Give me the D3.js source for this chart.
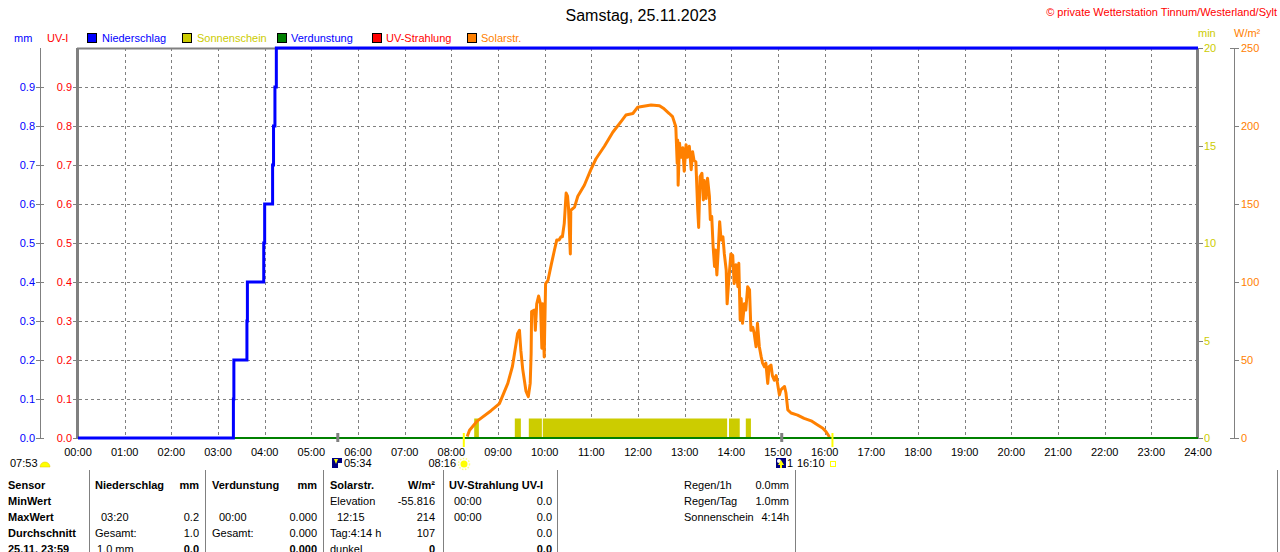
<!DOCTYPE html>
<html><head><meta charset="utf-8">
<script src="https://cdn.jsdelivr.net/npm/d3@7"></script>
<style>
html,body{margin:0;padding:0;background:#fff;}
svg{display:block;font-family:"Liberation Sans",Arial,sans-serif;}
</style></head>
<body><svg id="c" width="1280" height="552"></svg>
<script>
// ---------- data ----------
const hourLabels = ["00:00","01:00","02:00","03:00","04:00","05:00","06:00","07:00","08:00","09:00","10:00","11:00","12:00","13:00","14:00","15:00","16:00","17:00","18:00","19:00","20:00","21:00","22:00","23:00","24:00"];
const leftTicks = [0,0.1,0.2,0.3,0.4,0.5,0.6,0.7,0.8,0.9];
const minTicks = [0,5,10,15,20];
const solarTicks = [0,50,100,150,200,250];

// Niederschlag (cumulative mm), time in hours
const precipTimes  = [0, 3.33, 3.34, 3.62, 3.63, 3.98, 4.00, 4.17, 4.19, 4.22, 4.25, 24];
const precipValues = [0, 0.1, 0.2, 0.3, 0.4, 0.5, 0.6, 0.7, 0.8, 0.9, 1.0, 1.0];

// Verdunstung (mm)
const evapTimes = [0, 24];
const evapValues = [0, 0];

// Sonnenschein (min per interval)
const sunStart = [8.49, 9.36, 9.66, 9.96, 13.95, 14.31];
const sunEnd   = [8.59, 9.49, 9.94, 13.91, 14.18, 14.42];
const sunValue = [1, 1, 1, 1, 1, 1];

// Solarstrahlung (W/m²)
const solarTimes = [8.34,8.39,8.56,8.85,9.03,9.21,9.31,9.39,9.42,9.46,9.49,9.53,9.60,9.65,9.69,9.71,9.72,9.78,9.80,9.83,9.87,9.91,9.94,9.96,9.99,10.02,10.07,10.14,10.21,10.26,10.31,10.35,10.38,10.42,10.46,10.49,10.51,10.55,10.56,10.64,10.71,10.85,10.99,11.10,11.28,11.46,11.64,11.74,11.89,11.99,12.28,12.46,12.56,12.67,12.74,12.81,12.84,12.85,12.86,12.89,12.92,12.96,12.99,13.03,13.06,13.10,13.14,13.17,13.20,13.24,13.28,13.30,13.33,13.37,13.40,13.42,13.46,13.49,13.53,13.55,13.58,13.61,13.64,13.66,13.69,13.72,13.75,13.78,13.82,13.85,13.89,13.91,13.94,13.96,13.99,14.03,14.06,14.10,14.14,14.16,14.19,14.21,14.24,14.28,14.31,14.35,14.39,14.42,14.46,14.49,14.53,14.56,14.60,14.64,14.67,14.71,14.74,14.78,14.81,14.85,14.88,14.92,14.96,14.99,15.03,15.06,15.10,15.14,15.17,15.21,15.28,15.42,15.56,15.71,15.85,15.96,16.03,16.09,16.10];
const solarValues = [1,5,11,17.5,22,35,46,61,67,69,56,44,30,26.5,35,54,81,82,69,86,91,86,57.5,86,52,99,101,111,120.5,127,127,129,129,137.6,157,155,148,118,146,148,155,162,172,179,187,196,203,207,208,212,213.5,213,211,208,206,199.5,176,191,162,189,180,186,171,188,180,187,172,183.5,178,177,146,135,167.5,169.7,152.6,165,153.6,166.5,155,140,142,122.6,110,120.5,104.5,120.5,138.7,127,129,118,107.7,86,99,106.6,118,117,99,111,97,112,75.6,89.5,73.5,86,82,97,95,69,71,67,58.5,73.5,58.5,52,48,45.7,48,35,45.7,46.8,40,37,40,35,27.6,30.8,32,33,29,18,16,14.7,12.6,11,8.3,6.2,4,1.3,0];

// Sun / moon events
const moonEvents = [5.567, 15.08];
const sunEvents = [8.267, 16.167];

// ---------- chart ----------
const svg = d3.select("#c");
const X0 = 78, X1 = 1198, Y0 = 438, Y1 = 48;
const x = d3.scaleLinear().domain([0,24]).range([X0,X1]);
const yL = d3.scaleLinear().domain([0,1]).range([Y0,Y1]);
const yMin = d3.scaleLinear().domain([0,20]).range([Y0,Y1]);
const ySol = d3.scaleLinear().domain([0,250]).range([Y0,Y1]);
const GRAY = "#808080";
const FS = 11;

svg.append("rect").attr("width",1280).attr("height",552).attr("fill","#fff");

// title & header texts
svg.append("text").attr("x",641).attr("y",21).attr("text-anchor","middle").attr("font-size",16).text("Samstag, 25.11.2023");
svg.append("text").attr("x",1277).attr("y",16).attr("text-anchor","end").attr("font-size",FS).attr("fill","#ff0000").text("© private Wetterstation Tinnum/Westerland/Sylt");
svg.append("text").attr("x",14).attr("y",42).attr("font-size",FS).attr("fill","#0000ff").text("mm");
svg.append("text").attr("x",47).attr("y",42).attr("font-size",FS).attr("fill","#ff0000").text("UV-I");
svg.append("text").attr("x",1198).attr("y",37).attr("font-size",FS).attr("fill","#cccc00").text("min");
svg.append("text").attr("x",1234).attr("y",37).attr("font-size",FS).attr("fill","#ff8000").text("W/m²");

// legend
const legend = [
  {name:"Niederschlag", color:"#0000ff", text:"#0000ff", sx:87, tx:102},
  {name:"Sonnenschein", color:"#cccc00", text:"#cccc00", sx:182, tx:197},
  {name:"Verdunstung", color:"#008000", text:"#0000ff", sx:277, tx:291},
  {name:"UV-Strahlung", color:"#ff0000", text:"#ff0000", sx:372, tx:386},
  {name:"Solarstr.", color:"#ff8000", text:"#ff8000", sx:467, tx:481}
];
legend.forEach(l=>{
  svg.append("rect").attr("x",l.sx+0.5).attr("y",33.5).attr("width",9).attr("height",9).attr("fill",l.color).attr("stroke","#000");
  svg.append("text").attr("x",l.tx).attr("y",42).attr("font-size",FS).attr("fill",l.text).text(l.name);
});

// grid
const grid = svg.append("g").attr("stroke",GRAY).attr("stroke-dasharray","3,3").attr("stroke-width",1);
d3.range(1,24).forEach(h=>{
  grid.append("line").attr("x1",Math.round(x(h))+0.5).attr("x2",Math.round(x(h))+0.5).attr("y1",Y1).attr("y2",Y0);
});
leftTicks.forEach(v=>{
  const yy = Math.round(yL(v))+0.5;
  grid.append("line").attr("x1",73).attr("x2",X1).attr("y1",yy).attr("y2",yy);
});

// left axes
svg.append("line").attr("x1",40.5).attr("x2",40.5).attr("y1",Y1).attr("y2",Y0).attr("stroke",GRAY);
leftTicks.forEach(v=>{
  const yy = Math.round(yL(v))+0.5;
  svg.append("line").attr("x1",36).attr("x2",44).attr("y1",yy).attr("y2",yy).attr("stroke",GRAY);
  svg.append("text").attr("x",35).attr("y",yy).attr("dy","0.35em").attr("text-anchor","end").attr("font-size",FS).attr("fill","#0000ff").text(v.toFixed(1));
  svg.append("text").attr("x",72).attr("y",yy).attr("dy","0.35em").attr("text-anchor","end").attr("font-size",FS).attr("fill","#ff0000").text(v.toFixed(1));
});

// right axes
minTicks.forEach(v=>{
  const yy = Math.round(yMin(v))+0.5;
  svg.append("line").attr("x1",X1).attr("x2",1203).attr("y1",yy).attr("y2",yy).attr("stroke",GRAY);
  svg.append("text").attr("x",1204).attr("y",yy).attr("dy","0.35em").attr("font-size",FS).attr("fill","#cccc00").text(v);
});
svg.append("line").attr("x1",1234.5).attr("x2",1234.5).attr("y1",Y1).attr("y2",Y0).attr("stroke",GRAY);
solarTicks.forEach(v=>{
  const yy = Math.round(ySol(v))+0.5;
  const left = (v===250||v===0) ? 1230 : 1234;
  svg.append("line").attr("x1",left).attr("x2",1239).attr("y1",yy).attr("y2",yy).attr("stroke",GRAY);
  svg.append("text").attr("x",1241).attr("y",yy).attr("dy","0.35em").attr("font-size",FS).attr("fill","#ff8000").text(v);
});

// plot box
svg.append("line").attr("x1",X0-1).attr("x2",X1).attr("y1",Y1+0.5).attr("y2",Y1+0.5).attr("stroke",GRAY).attr("stroke-width",2);
svg.append("line").attr("x1",X0-0.5).attr("x2",X0-0.5).attr("y1",Y1).attr("y2",Y0+1).attr("stroke",GRAY).attr("stroke-width",3);
svg.append("line").attr("x1",X1-0.5).attr("x2",X1-0.5).attr("y1",Y1).attr("y2",Y0+1).attr("stroke",GRAY).attr("stroke-width",3);

// sunshine bars
const sunData = sunStart.map((s,i)=>({s, e:sunEnd[i], v:sunValue[i]}));
svg.append("g").selectAll("rect").data(sunData).join("rect")
  .attr("x",d=>x(d.s)).attr("width",d=>x(d.e)-x(d.s))
  .attr("y",d=>yMin(d.v)).attr("height",d=>Y0-yMin(d.v))
  .attr("fill","#cccc00");

// solar line
const solarData = solarTimes.map((t,i)=>({t, v:solarValues[i]}));
svg.append("path").datum(solarData)
  .attr("d", d3.line().x(d=>x(d.t)).y(d=>ySol(d.v)))
  .attr("fill","none").attr("stroke","#ff8000").attr("stroke-width",3).attr("stroke-linejoin","round");

// evaporation line
const evapData = evapTimes.map((t,i)=>({t, v:evapValues[i]}));
svg.append("path").datum(evapData)
  .attr("d", d3.line().x(d=>x(d.t)).y(d=>yL(d.v)))
  .attr("fill","none").attr("stroke","#008000").attr("stroke-width",2);

// precip step line
const precipData = precipTimes.map((t,i)=>({t, v:precipValues[i]}));
svg.append("path").datum(precipData)
  .attr("d", d3.line().curve(d3.curveStepAfter).x(d=>x(d.t)).y(d=>yL(d.v)))
  .attr("fill","none").attr("stroke","#0000ff").attr("stroke-width",3);

// x-axis labels
hourLabels.forEach((lab,i)=>{
  svg.append("text").attr("x",x(i)).attr("y",452).attr("dy","0.35em").attr("text-anchor","middle").attr("font-size",FS).text(lab);
});

// event ticks
moonEvents.forEach(t=>{
  svg.append("line").attr("x1",x(t)).attr("x2",x(t)).attr("y1",433).attr("y2",442).attr("stroke",GRAY).attr("stroke-width",3);
});
sunEvents.forEach(t=>{
  svg.append("line").attr("x1",x(t)).attr("x2",x(t)).attr("y1",433).attr("y2",447).attr("stroke","#ffff00").attr("stroke-width",2);
});

// event labels & icons
const ev = svg.append("g").attr("font-size",FS);
ev.append("text").attr("x",10).attr("y",463).attr("dy","0.35em").text("07:53");
ev.append("path").attr("d","M40,467 A5,5 0 0 1 50,467 Z").attr("fill","#ffff00").attr("stroke","#e0c000").attr("stroke-width",0.5);
// moonrise icon
ev.append("rect").attr("x",332).attr("y",458).attr("width",10).attr("height",10).attr("fill","#000080");
ev.append("path").attr("d","M334,459 L338,459 L336,464 Z").attr("fill","#ffff00");
ev.append("rect").attr("x",338).attr("y",463).attr("width",4).attr("height",5).attr("fill","#fff");
ev.append("text").attr("x",344).attr("y",463).attr("dy","0.35em").text("05:34");
// sunrise
ev.append("text").attr("x",456).attr("y",463).attr("dy","0.35em").attr("text-anchor","end").text("08:16");
ev.append("circle").attr("cx",464).attr("cy",464).attr("r",3.5).attr("fill","#ffff00");
ev.append("circle").attr("cx",464).attr("cy",464).attr("r",5.5).attr("fill","none").attr("stroke","#ffff80").attr("stroke-width",1.5).attr("stroke-dasharray","1.5,1.5");
// moonset icon
ev.append("rect").attr("x",776).attr("y",458).attr("width",10).attr("height",10).attr("fill","#000080");
ev.append("circle").attr("cx",779).attr("cy",461).attr("r",2).attr("fill","#fff");
ev.append("path").attr("d","M781,460 L784,465 L782,465 L782,468 L780,468 L780,465 L778,465 Z").attr("fill","#ffff00");
ev.append("text").attr("x",787).attr("y",463).attr("dy","0.35em").text("1");
ev.append("text").attr("x",797).attr("y",463).attr("dy","0.35em").text("16:10");
ev.append("rect").attr("x",830.5).attr("y",461.5).attr("width",5).attr("height",5).attr("fill","none").attr("stroke","#ffff00");

// table
const tableLinesX = [89, 205, 323, 443, 557, 795, 1277];
tableLinesX.forEach(xx=>{
  svg.append("line").attr("x1",xx+0.5).attr("x2",xx+0.5).attr("y1",470).attr("y2",552).attr("stroke",GRAY);
});
const rowY = [485, 501, 517, 533, 549];
const rowLabels = ["Sensor","MinWert","MaxWert","Durchschnitt","25.11. 23:59"];
const tbl = svg.append("g").attr("font-size",FS);
function t(xx, row, txt, opts={}) {
  const el = tbl.append("text").attr("x",xx).attr("y",rowY[row]).attr("dy","0.35em").text(txt);
  if (opts.end) el.attr("text-anchor","end");
  if (opts.bold) el.attr("font-weight","bold");
}
rowLabels.forEach((r,i)=>t(8,i,r,{bold:true}));
// Niederschlag
t(95,0,"Niederschlag",{bold:true}); t(199,0,"mm",{bold:true,end:true});
t(101,2,"03:20"); t(199,2,"0.2",{end:true});
t(95,3,"Gesamt:"); t(199,3,"1.0",{end:true});
t(97,4,"1.0 mm"); t(199,4,"0.0",{end:true,bold:true});
// Verdunstung
t(212,0,"Verdunstung",{bold:true}); t(317,0,"mm",{bold:true,end:true});
t(219,2,"00:00"); t(317,2,"0.000",{end:true});
t(212,3,"Gesamt:"); t(317,3,"0.000",{end:true});
t(317,4,"0.000",{end:true,bold:true});
// Solar
t(330,0,"Solarstr.",{bold:true}); t(435,0,"W/m²",{bold:true,end:true});
t(330,1,"Elevation"); t(435,1,"-55.816",{end:true});
t(337,2,"12:15"); t(435,2,"214",{end:true});
t(330,3,"Tag:4:14 h"); t(435,3,"107",{end:true});
t(330,4,"dunkel"); t(435,4,"0",{end:true,bold:true});
// UV
t(449,0,"UV-Strahlung UV-I",{bold:true});
t(454,1,"00:00"); t(552,1,"0.0",{end:true});
t(454,2,"00:00"); t(552,2,"0.0",{end:true});
t(552,3,"0.0",{end:true});
t(552,4,"0.0",{end:true,bold:true});
// summary
t(684,0,"Regen/1h"); t(789,0,"0.0mm",{end:true});
t(684,1,"Regen/Tag"); t(789,1,"1.0mm",{end:true});
t(684,2,"Sonnenschein"); t(789,2,"4:14h",{end:true});
</script></body></html>
